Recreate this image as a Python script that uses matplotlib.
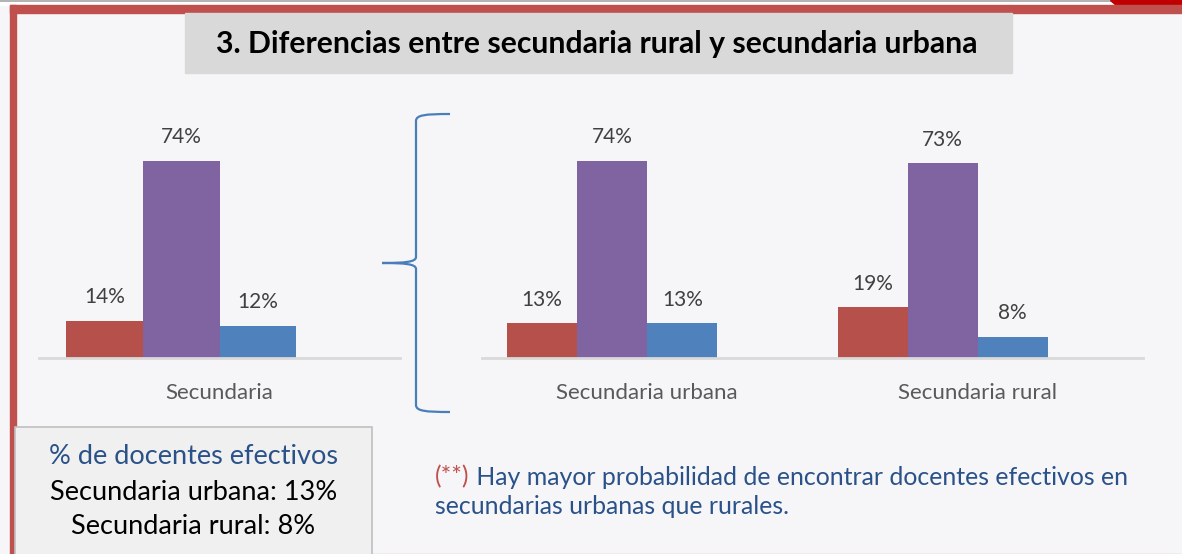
import numpy as np
import matplotlib.pyplot as plt
from matplotlib.path import Path
from matplotlib.patches import PathPatch, Rectangle, Polygon

# data
left_categories = ["Secundaria"]
right_categories = ["Secundaria urbana", "Secundaria rural"]

red_left = [14]
purple_left = [74]
blue_left = [12]

red_right = [13, 19]
purple_right = [74, 73]
blue_right = [13, 8]

title_text = "3. Diferencias entre secundaria rural y secundaria urbana"
box_lines = ["% de docentes efectivos", "Secundaria urbana: 13%", "Secundaria rural: 8%"]
note_mark = "(**)"
note_line1 = " Hay mayor probabilidad de encontrar docentes efectivos en"
note_line2 = "secundarias urbanas que rurales."

RED = "#b6504b"
PURPLE = "#8064a2"
BLUE = "#4f81bd"
BG = "#f6f6f8"
TEXT_BLUE = "#2a5289"
FONT = ["Lato", "DejaVu Sans"]

W, H = 1182, 554
plt.rcParams["font.family"] = FONT

fig = plt.figure(figsize=(W / 100, H / 100), dpi=100)
fig.patch.set_facecolor(BG)

# background axes in pixel coords
bg = fig.add_axes([0, 0, 1, 1], zorder=0)
bg.set_xlim(0, W)
bg.set_ylim(H, 0)
bg.axis("off")
bg.set_facecolor(BG)

# frame
bg.add_patch(Rectangle((0, 0), W, 5, color="white", zorder=1))
bg.plot([0, 1113], [0.8, 0.8], color="#a6a6a6", lw=1.2, zorder=2)
bg.add_patch(Polygon([[1110, 0], [W, 0], [W, 5], [1116, 5]], color="#c00000", zorder=2))
bg.add_patch(Rectangle((10, 5), W - 10, 8, color="#c0504d", zorder=2))
bg.add_patch(Rectangle((10, 5), 5.5, H - 5, color="#c0504d", zorder=2))
bg.plot([372, W], [553.5, 553.5], color="#e6b9b8", lw=1, zorder=2)

# title box
bg.add_patch(Rectangle((185, 13), 827, 60, color="#d9d9d9", zorder=2))
bg.text(597, 44, title_text, ha="center", va="center", fontsize=21.7,
        fontweight="bold", color="black", zorder=3)

# brace
brace_verts = [
    (450, 114), (425, 114), (416, 115), (416, 121),
    (416, 257),
    (416, 262), (405, 263), (382, 263),
    (405, 263), (416, 264), (416, 269),
    (416, 405),
    (416, 411), (425, 412), (450, 412),
]
brace_codes = [Path.MOVETO, Path.CURVE4, Path.CURVE4, Path.CURVE4,
               Path.LINETO,
               Path.CURVE4, Path.CURVE4, Path.CURVE4,
               Path.CURVE4, Path.CURVE4, Path.CURVE4,
               Path.LINETO,
               Path.CURVE4, Path.CURVE4, Path.CURVE4]
bg.add_patch(PathPatch(Path(brace_verts, brace_codes), facecolor="none",
                       edgecolor="#4a7ebb", lw=1.6, zorder=3))

# left info box
bg.add_patch(Rectangle((15, 427), 357, 130, facecolor="#f0f0f0",
                       edgecolor="#bfbfbf", lw=1.2, zorder=3))
bg.text(193.5, 457, box_lines[0], ha="center", va="center", fontsize=19.5,
        color=TEXT_BLUE, zorder=4)
bg.text(193.5, 493, box_lines[1], ha="center", va="center", fontsize=19.5,
        color="black", zorder=4)
bg.text(193.5, 527, box_lines[2], ha="center", va="center", fontsize=19.5,
        color="black", zorder=4)

# note
t1 = bg.text(435, 477, note_mark, ha="left", va="center", fontsize=17.9,
             color="#c0504d", zorder=4)
bg.annotate(note_line1, xy=(1, 0), xycoords=t1, ha="left", va="bottom",
            fontsize=17.9, color=TEXT_BLUE, zorder=4)
bg.text(435, 507, note_line2, ha="left", va="center", fontsize=17.9,
        color=TEXT_BLUE, zorder=4)

# bar charts
px_per_pct = 2.666
y_top = 80
base_y = 358
ax_h = y_top * px_per_pct
bar_w = 0.212


def bar_axes(x0, x1, n_cat):
    ax = fig.add_axes([x0 / W, (H - base_y) / H, (x1 - x0) / W, ax_h / H], zorder=2)
    ax.set_facecolor("none")
    ax.set_xlim(-0.5, n_cat - 0.5)
    ax.set_ylim(0, y_top)
    for s in ["top", "right", "left"]:
        ax.spines[s].set_visible(False)
    ax.spines["bottom"].set_color("#d9d9d9")
    ax.spines["bottom"].set_linewidth(2)
    ax.set_yticks([])
    ax.tick_params(axis="x", length=0, pad=18, labelsize=16, labelcolor="#595959")
    return ax


def draw_bars(ax, categories, series):
    x = np.arange(len(categories))
    # 4 slots per category, the last one left empty
    for i, (vals, color) in enumerate(series):
        pos = x + (i - 1.5) * bar_w
        bars = ax.bar(pos, vals, width=bar_w, color=color, edgecolor="none")
        for b, v in zip(bars, vals):
            ax.annotate(f"{v}%", xy=(b.get_x() + b.get_width() / 2, v),
                        xytext=(0, 17), textcoords="offset points",
                        ha="center", va="center", fontsize=15, color="#404040")
    ax.set_xticks(x)
    ax.set_xticklabels(categories)


ax_left = bar_axes(39, 400, len(left_categories))
draw_bars(ax_left, left_categories,
          [(red_left, RED), (purple_left, PURPLE), (blue_left, BLUE)])

ax_right = bar_axes(482, 1143, len(right_categories))
draw_bars(ax_right, right_categories,
          [(red_right, RED), (purple_right, PURPLE), (blue_right, BLUE)])

fig.savefig("out.png", dpi=100, facecolor=BG)
